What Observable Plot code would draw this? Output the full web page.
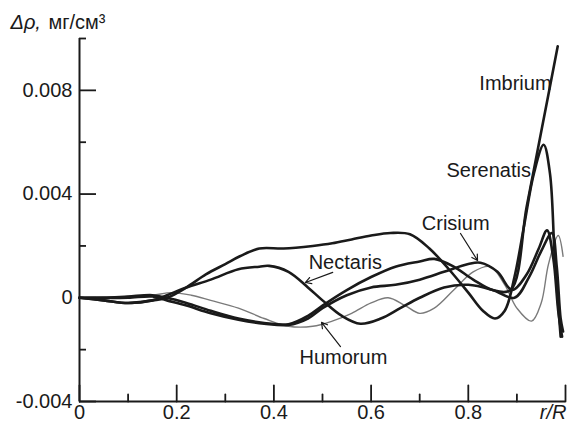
<!DOCTYPE html>
<html><head><meta charset="utf-8">
<script src="https://cdn.jsdelivr.net/npm/d3@7"></script>
<script src="https://cdn.jsdelivr.net/npm/@observablehq/plot@0.6"></script>
<style>
body{margin:0;background:#fff}
svg{font-family: Arial, "Liberation Sans", sans-serif}
</style>
</head><body><div id="chart"></div>
<script>
// ---- data ----
const serenatisR = [0,0.05,0.1,0.15,0.18,0.22,0.26,0.3,0.33,0.37,0.42,0.48,0.52,0.56,0.6,0.64,0.68,0.72,0.76,0.8,0.83,0.855,0.875,0.895,0.915,0.935,0.955,0.968,0.978,0.99];
const serenatisV = [0,-0.0001,-0.0002,-0.0001,0,0.0004,0.0009,0.0013,0.0016,0.0019,0.0019,0.002,0.0021,0.00225,0.0024,0.0025,0.00245,0.0019,0.0011,0.0002,-0.0005,-0.0008,-0.0005,0.0008,0.0028,0.0048,0.0059,0.0048,0.0015,-0.0015];

const imbriumR = [0,0.05,0.1,0.15,0.18,0.22,0.27,0.327,0.38,0.43,0.47,0.5,0.55,0.6,0.65,0.7,0.73,0.77,0.81,0.85,0.887,0.92,0.95,0.984];
const imbriumV = [0,0,0.00005,0.0001,0,-0.0002,-0.0005,-0.0008,-0.00097,-0.00102,-0.0007,-0.0003,0.0003,0.0008,0.0012,0.0014,0.0015,0.0012,0.0007,0.0003,0.0003,0.0035,0.0064,0.0097];

const crisiumR = [0,0.05,0.1,0.15,0.18,0.22,0.27,0.327,0.38,0.43,0.47,0.5,0.55,0.6,0.65,0.7,0.75,0.8,0.825,0.86,0.89,0.92,0.945,0.962,0.975,0.985,0.993];
const crisiumV = [0,0,0,0.00005,-0.0001,-0.0003,-0.0006,-0.00085,-0.001,-0.00105,-0.0008,-0.0004,0.0001,0.0004,0.0005,0.0007,0.001,0.0013,0.00135,0.001,0.0003,0.0009,0.0019,0.0026,0.0015,-0.0005,-0.0015];

const nectarisR = [0,0.05,0.1,0.15,0.18,0.22,0.27,0.327,0.37,0.39,0.43,0.47,0.5,0.54,0.578,0.62,0.66,0.7,0.75,0.8,0.85,0.895,0.925,0.95,0.972,0.982,0.99,0.995];
const nectarisV = [0,-0.0001,-0.0002,-0.0001,0.0001,0.0004,0.0007,0.0011,0.0012,0.00123,0.001,0.0004,-0.0001,-0.0007,-0.001,-0.0008,-0.0004,0,0.0004,0.0005,0.0003,0,0.0008,0.0018,0.0025,0.0012,-0.0008,-0.0013];

const humorumR = [0,0.1,0.15,0.19,0.23,0.27,0.327,0.38,0.43,0.48,0.52,0.56,0.6,0.635,0.67,0.7,0.73,0.77,0.81,0.845,0.875,0.9,0.93,0.95,0.965,0.985,0.995];
const humorumV = [0,0.00005,0.0001,0.0002,0.0001,-0.0001,-0.0004,-0.0008,-0.0011,-0.0011,-0.0009,-0.0006,-0.0002,0,-0.0003,-0.0006,-0.0004,0.0003,0.001,0.0012,0.0005,-0.0004,-0.0009,-0.0002,0.0013,0.0024,0.0016];

const labelNames = ["Imbrium","Serenatis","Crisium","Nectaris","Humorum"];
const labelR = [0.897,0.842,0.774,0.547,0.543];
const labelV = [0.00826,0.00491,0.00287,0.00136,-0.0023];

const arrowFromR = [0.784,0.521,0.537];
const arrowFromV = [0.00248,0.00098,-0.00188];
const arrowToR = [0.819,0.465,0.498];
const arrowToV = [0.00144,0.00059,-0.00095];

const yMajorTicks = [-0.004,0,0.004,0.008];
const yMinorTicks = [-0.002,0.002,0.006,0.01];
const xMajorTicks = [0,0.2,0.4,0.6,0.8,1];
const xMinorTicks = [0.1,0.3,0.5,0.7,0.9];
const xLabelTicks = [0,0.2,0.4,0.6,0.8];
const titleItalic = "Δρ,";
const titleUnits = "мг/см³";
const xAxisName = "r/R";

// ---- build tables ----
const thick = [
  ["Serenatis", serenatisR, serenatisV],
  ["Imbrium", imbriumR, imbriumV],
  ["Crisium", crisiumR, crisiumV],
  ["Nectaris", nectarisR, nectarisV]
].flatMap(([name, R, V]) => R.map((r, i) => ({name, r, v: V[i]})));
const thin = humorumR.map((r, i) => ({name: "Humorum", r, v: humorumV[i]}));
const labels = labelNames.map((t, i) => ({t, r: labelR[i], v: labelV[i]}));
const arrows = arrowFromR.map((r1, i) => ({r1, v1: arrowFromV[i], r2: arrowToR[i], v2: arrowToV[i]}));
const fmt = d => d === 0 ? "0" : String(d);
const ink = "#1a1a1a";
const plotWidthPx = 569 - 79 - 4;          // inner frame width in px
const tickMajor = 17 / plotWidthPx;        // tick lengths as fractions of the x range
const tickMinor = 7 / plotWidthPx;
const tickShape = {draw(context, l) { context.moveTo(0, 0); context.lineTo(0, -l); }};

const chart = Plot.plot({
  width: 569, height: 425,
  marginLeft: 79, marginRight: 4, marginTop: 38, marginBottom: 24,
  style: {fontFamily: "Arial, 'Liberation Sans', sans-serif", fontSize: "20px", color: ink, background: "#fff", overflow: "visible"},
  x: {domain: [0, 1]},
  y: {domain: [-0.004, 0.01]},
  marks: [
    Plot.ruleY(yMajorTicks, {y: d => d, x1: () => 0, x2: () => tickMajor, stroke: ink, strokeWidth: 1.8}),
    Plot.ruleY(yMinorTicks, {y: d => d, x1: () => 0, x2: () => tickMinor, stroke: ink, strokeWidth: 1.8}),
    Plot.vector(xMajorTicks, {x: d => d, y: -0.004, length: 16, rotate: 0, anchor: "start", shape: tickShape, stroke: ink, strokeWidth: 1.8}),
    Plot.vector(xMinorTicks, {x: d => d, y: -0.004, length: 7, rotate: 0, anchor: "start", shape: tickShape, stroke: ink, strokeWidth: 1.8}),
    Plot.axisY(yMajorTicks, {tickSize: 0, tickPadding: 7, tickFormat: fmt, label: null, fontSize: 20}),
    Plot.axisX(xLabelTicks, {tickSize: 0, tickPadding: 3, tickFormat: fmt, label: null, fontSize: 20}),
    Plot.ruleX([0], {stroke: ink, strokeWidth: 2}),
    Plot.ruleY([-0.004], {stroke: ink, strokeWidth: 2}),
    Plot.line(thin, {x: "r", y: "v", z: "name", stroke: "#7a7a7a", strokeWidth: 1.4, curve: "catmull-rom"}),
    Plot.line(thick, {x: "r", y: "v", z: "name", stroke: ink, strokeWidth: 2.6, curve: "catmull-rom"}),
    Plot.arrow(arrows, {x1: "r1", y1: "v1", x2: "r2", y2: "v2", stroke: ink, strokeWidth: 1.2, headLength: 8}),
    Plot.text(labels, {x: "r", y: "v", text: "t", fontSize: 20, fill: ink}),
    Plot.text([titleItalic], {text: d => d, frameAnchor: "top-left", dx: -69, dy: -10, lineAnchor: "bottom", textAnchor: "start", fontStyle: "italic", fontSize: 20, fill: ink}),
    Plot.text([titleUnits], {text: d => d, frameAnchor: "top-left", dx: -31, dy: -10, lineAnchor: "bottom", textAnchor: "start", fontSize: 20, fill: ink}),
    Plot.text([xAxisName], {text: d => d, frameAnchor: "bottom-right", dx: 1, dy: 3, lineAnchor: "top", textAnchor: "end", fontStyle: "italic", fontSize: 20, fill: ink, letterSpacing: "2px"})
  ]
});
document.getElementById("chart").appendChild(chart);
</script>
</body></html>
